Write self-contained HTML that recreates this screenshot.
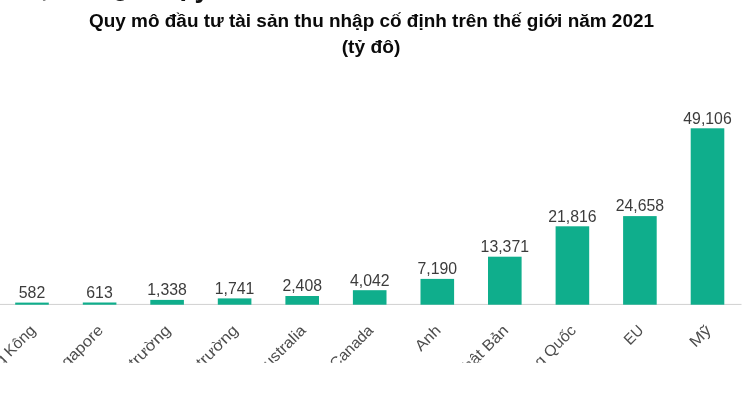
<!DOCTYPE html>
<html lang="vi"><head><meta charset="utf-8"><title>Quy mô đầu tư tài sản thu nhập cố định</title>
<style>
html,body{margin:0;padding:0;background:#fff}
body{width:750px;height:402px;overflow:hidden;font-family:"Liberation Sans",sans-serif}
svg{display:block;filter:blur(0.45px)}
text{font-family:"Liberation Sans",sans-serif}
.t{font-weight:bold;font-size:19.2px;fill:#0a0a0a;text-anchor:middle}
.v text{font-size:15.7px;fill:#3c3c3c;text-anchor:middle}
.x text{font-size:15.3px;fill:#4d4d4d;text-anchor:end}
.cut{font-weight:bold;font-size:27px;fill:#111}
</style></head><body>
<svg width="750" height="402" viewBox="0 0 750 402">
<defs><clipPath id="c"><rect x="0" y="306" width="750" height="56.7"/></clipPath></defs>
<rect width="750" height="402" fill="#fff"/>
<text class="cut" x="41 112.5 179.5 194.5" y="-4 -4.6 -4.8 -3">,gpy</text>
<text class="t" x="371.5" y="27.2" textLength="565" lengthAdjust="spacingAndGlyphs">Quy mô đầu tư tài sản thu nhập cố định trên thế giới năm 2021</text>
<text class="t" x="371" y="52.5">(tỷ đô)</text>
<rect x="0" y="303.9" width="741.5" height="1.1" fill="#d4d4d4"/>
<g fill="#0fae8c">
<rect x="15.2" y="302.6" width="33.6" height="2.1"/>
<rect x="82.8" y="302.5" width="33.6" height="2.2"/>
<rect x="150.3" y="299.9" width="33.6" height="4.8"/>
<rect x="217.8" y="298.4" width="33.6" height="6.3"/>
<rect x="285.4" y="296.0" width="33.6" height="8.7"/>
<rect x="352.9" y="290.2" width="33.6" height="14.5"/>
<rect x="420.5" y="278.9" width="33.6" height="25.8"/>
<rect x="488.0" y="256.7" width="33.6" height="48.0"/>
<rect x="555.6" y="226.3" width="33.6" height="78.4"/>
<rect x="623.1" y="216.1" width="33.6" height="88.6"/>
<rect x="690.7" y="128.3" width="33.6" height="176.4"/>
</g>
<g class="v">
<text x="32.0" y="297.9" textLength="26.5" lengthAdjust="spacingAndGlyphs">582</text>
<text x="99.5" y="297.8" textLength="26.5" lengthAdjust="spacingAndGlyphs">613</text>
<text x="167.1" y="295.2" textLength="39.6" lengthAdjust="spacingAndGlyphs">1,338</text>
<text x="234.6" y="293.7" textLength="39.6" lengthAdjust="spacingAndGlyphs">1,741</text>
<text x="302.2" y="291.3" textLength="39.6" lengthAdjust="spacingAndGlyphs">2,408</text>
<text x="369.8" y="285.5" textLength="39.6" lengthAdjust="spacingAndGlyphs">4,042</text>
<text x="437.3" y="274.2" textLength="39.6" lengthAdjust="spacingAndGlyphs">7,190</text>
<text x="504.8" y="252.0" textLength="48.4" lengthAdjust="spacingAndGlyphs">13,371</text>
<text x="572.4" y="221.6" textLength="48.4" lengthAdjust="spacingAndGlyphs">21,816</text>
<text x="639.9" y="211.4" textLength="48.4" lengthAdjust="spacingAndGlyphs">24,658</text>
<text x="707.5" y="123.6" textLength="48.4" lengthAdjust="spacingAndGlyphs">49,106</text>
</g>
<g class="x" clip-path="url(#c)">
<text transform="translate(36.5 331.3) rotate(-45)" textLength="79.2" lengthAdjust="spacingAndGlyphs">Hồng Kông</text>
<text transform="translate(104.0 331.3) rotate(-45)" textLength="76.2" lengthAdjust="spacingAndGlyphs">Singapore</text>
<text transform="translate(171.6 331.3) rotate(-45)" textLength="81.0" lengthAdjust="spacingAndGlyphs">Thị trường</text>
<text transform="translate(239.1 331.3) rotate(-45)" textLength="81.0" lengthAdjust="spacingAndGlyphs">Thị trường</text>
<text transform="translate(306.7 331.3) rotate(-45)" textLength="64.2" lengthAdjust="spacingAndGlyphs">Australia</text>
<text transform="translate(374.2 331.3) rotate(-45)" textLength="54.4" lengthAdjust="spacingAndGlyphs">Canada</text>
<text transform="translate(441.8 331.3) rotate(-45)" textLength="29.3" lengthAdjust="spacingAndGlyphs">Anh</text>
<text transform="translate(509.3 331.3) rotate(-45)" textLength="69.5" lengthAdjust="spacingAndGlyphs">Nhật Bản</text>
<text transform="translate(576.9 331.3) rotate(-45)" textLength="84.1" lengthAdjust="spacingAndGlyphs">Trung Quốc</text>
<text transform="translate(644.4 331.3) rotate(-45)" textLength="20.3" lengthAdjust="spacingAndGlyphs">EU</text>
<text transform="translate(712.0 331.3) rotate(-45)" textLength="23.5" lengthAdjust="spacingAndGlyphs">Mỹ</text>
</g>
</svg>
</body></html>
